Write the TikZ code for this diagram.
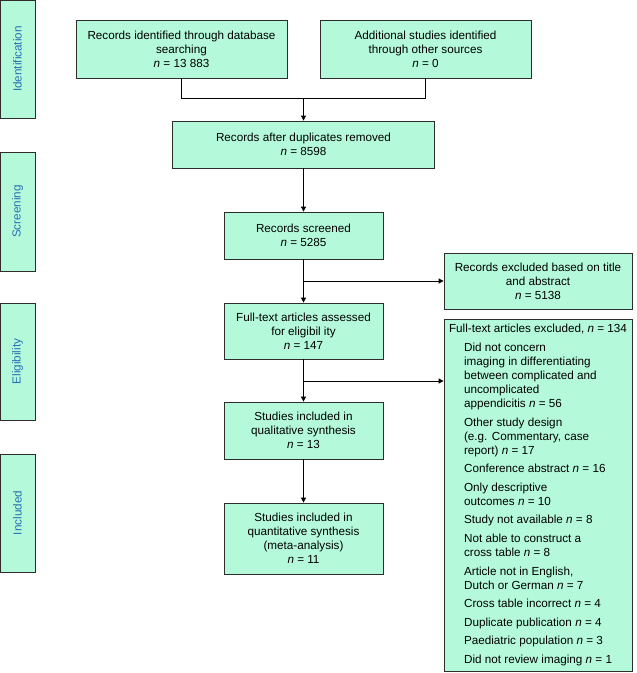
\documentclass[tikz,border=0pt]{standalone}
\usepackage{fontspec}
\setmainfont{Liberation Sans}
\usetikzlibrary{arrows.meta}
\definecolor{mint}{RGB}{180,250,218}
\definecolor{sideblue}{RGB}{40,110,180}
\definecolor{edgegray}{RGB}{45,45,45}
\newcommand\nval{\textit{n}}
\newcommand\itm{\hspace*{15pt}}
\begin{document}
\begin{tikzpicture}[x=1pt,y=-1pt,
  box/.style={draw=edgegray, fill=mint, line width=0.8pt, rectangle, align=center,
    font=\fontsize{11.7}{14}\selectfont, inner sep=2pt},
  side/.style={draw=edgegray, fill=mint, line width=0.8pt, rectangle, rotate=90,
    text=sideblue, font=\fontsize{11.7}{14}\selectfont, minimum height=35pt},
  conn/.style={draw=black, line width=0.8pt},
  arr/.style={conn, -{Triangle[length=5pt,width=5pt]}}]
\useasboundingbox (0,0) rectangle (637,673);

% side labels
\node[side, minimum width=118pt] (s1) at (17.5,59) {Identification};
\node[side, minimum width=119pt] (s2) at (17.5,211.5) {Screening};
\node[side, minimum width=117pt] (s3) at (17.5,361.5) {Eligibility};
\node[side, minimum width=118pt] (s4) at (17.5,513) {Included};

% main boxes
\node[box, minimum width=211pt, minimum height=58pt] (b1) at (181.5,49)
  {Records identified through database\\searching\\\nval{} = 13 883};
\node[box, minimum width=211pt, minimum height=58pt] (b2) at (425.5,49)
  {Additional studies identified\\through other sources\\\nval{} = 0};
\node[box, minimum width=262pt, minimum height=47pt] (b3) at (303.5,144.5)
  {Records after duplicates removed\\\nval{} = 8598};
\node[box, minimum width=159pt, minimum height=47pt] (b4) at (303.5,235.5)
  {Records screened\\\nval{} = 5285};
\node[box, minimum width=159pt, minimum height=56pt] (b5) at (303.5,331)
  {Full-text articles assessed\\for eligibil ity\\\nval{} = 147};
\node[box, minimum width=159pt, minimum height=57pt] (b6) at (303.5,430.5)
  {Studies included in\\qualitative synthesis\\\nval{} = 13};
\node[box, minimum width=159pt, minimum height=71pt] (b7) at (303.5,538.5)
  {Studies included in\\quantitative synthesis\\(meta-analysis)\\\nval{} = 11};

% exclusion boxes
\node[box, minimum width=188pt, minimum height=56pt] (e1) at (538,281)
  {Records excluded based on title\\and abstract\\\nval{} = 5138};
\node[box, minimum width=188pt, minimum height=352pt, align=left, inner xsep=3pt] (e2) at (538,495)
  {Full-text articles excluded, \nval{} = 134\\[5pt]
   \itm Did not concern\\
   \itm imaging in differentiating\\
   \itm between complicated and\\
   \itm uncomplicated\\
   \itm appendicitis \nval{} = 56\\[4.6pt]
   \itm Other study design\\
   \itm (e.g. Commentary, case\\
   \itm report) \nval{} = 17\\[4.6pt]
   \itm Conference abstract \nval{} = 16\\[4.6pt]
   \itm Only descriptive\\
   \itm outcomes \nval{} = 10\\[4.6pt]
   \itm Study not available \nval{} = 8\\[4.6pt]
   \itm Not able to construct a\\
   \itm cross table \nval{} = 8\\[4.6pt]
   \itm Article not in English,\\
   \itm Dutch or German \nval{} = 7\\[4.6pt]
   \itm Cross table incorrect \nval{} = 4\\[4.6pt]
   \itm Duplicate publication \nval{} = 4\\[4.6pt]
   \itm Paediatric population \nval{} = 3\\[4.6pt]
   \itm Did not review imaging \nval{} = 1};

% connectors
\coordinate (j1) at (181.5,98);
\coordinate (j2) at (425.5,98);
\coordinate (jm) at (303.5,98);
\draw[conn] (b1.south) -- (j1) -- (j2) -- (b2.south);
\draw[arr] (jm) -- (b3.north);
\draw[arr] (b3.south) -- (b4.north);
\draw[arr] (b4.south) -- (b5.north);
\draw[arr] (b5.south) -- (b6.north);
\draw[arr] (b6.south) -- (b7.north);
\coordinate (k1) at (303.5,281);
\coordinate (k2) at (303.5,381);
\draw[arr] (k1) -- (e1.west);
\draw[arr] (k2) -- (k2 -| e2.west);
\end{tikzpicture}
\end{document}
